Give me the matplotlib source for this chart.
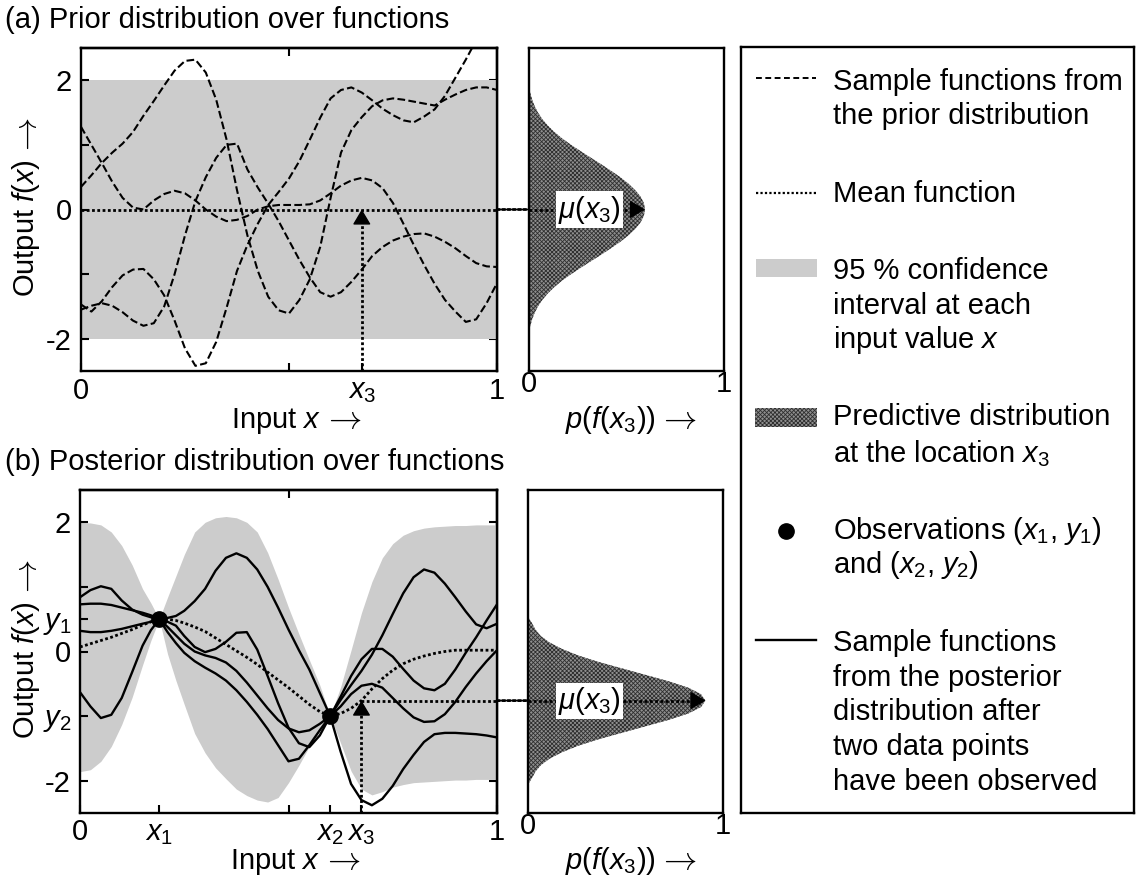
import matplotlib
matplotlib.use('Agg')
import matplotlib.pyplot as plt
from matplotlib.patches import Rectangle, ConnectionPatch
from matplotlib.lines import Line2D

plt.rcParams['font.family'] = ['Liberation Sans', 'DejaVu Sans']
plt.rcParams['mathtext.fontset'] = 'custom'
plt.rcParams['mathtext.rm'] = 'Liberation Sans'
plt.rcParams['mathtext.it'] = 'Liberation Sans:italic'
plt.rcParams['mathtext.bf'] = 'Liberation Sans:bold'
plt.rcParams['mathtext.sf'] = 'Liberation Sans'
plt.rcParams['hatch.linewidth'] = 0.6

# ------------------------------------------------------------------ data
x_prior = [0.0, 0.025, 0.05, 0.075, 0.1, 0.125, 0.15, 0.175, 0.2, 0.225, 0.25,
           0.275, 0.3, 0.325, 0.35, 0.375, 0.4, 0.425, 0.45, 0.475, 0.5,
           0.525, 0.55, 0.575, 0.6, 0.625, 0.65, 0.675, 0.7, 0.725, 0.75,
           0.775, 0.8, 0.825, 0.85, 0.875, 0.9, 0.925, 0.95, 0.975, 1.0]
prior_A = [0.35, 0.53, 0.72, 0.88, 1.02, 1.20, 1.45, 1.68, 1.92, 2.15, 2.30,
           2.32, 2.12, 1.70, 1.08, 0.30, -0.40, -0.95, -1.35, -1.56, -1.61,
           -1.40, -1.08, -0.58, 0.18, 0.88, 1.23, 1.43, 1.60, 1.69, 1.72,
           1.70, 1.67, 1.64, 1.61, 1.70, 1.78, 1.85, 1.89, 1.89, 1.85]
prior_B = [1.28, 1.00, 0.72, 0.43, 0.18, 0.03, 0.0, 0.14, 0.24, 0.29, 0.25,
           0.14, 0.0, -0.11, -0.18, -0.16, -0.10, 0.0, 0.05, 0.07, 0.07,
           0.07, 0.08, 0.14, 0.25, 0.37, 0.45, 0.49, 0.45, 0.33, 0.10,
           -0.22, -0.55, -0.86, -1.15, -1.40, -1.58, -1.74, -1.70, -1.45, -1.14]
prior_C = [-1.55, -1.49, -1.45, -1.49, -1.59, -1.72, -1.80, -1.76, -1.50, -1.00, -0.40,
           0.13, 0.50, 0.80, 1.00, 1.02, 0.62, 0.34, 0.09, -0.18, -0.48,
           -0.78, -1.05, -1.28, -1.35, -1.28, -1.12, -0.93, -0.72, -0.58, -0.48,
           -0.42, -0.38, -0.37, -0.42, -0.50, -0.60, -0.72, -0.83, -0.88, -0.89]
prior_D = [-1.47, -1.58, -1.42, -1.20, -1.02, -0.93, -0.92, -1.08, -1.33, -1.72, -2.15,
           -2.42, -2.38, -2.05, -1.52, -0.95, -0.55, -0.22, 0.07, 0.27, 0.48,
           0.75, 1.08, 1.42, 1.72, 1.85, 1.89, 1.81, 1.69, 1.56, 1.46,
           1.38, 1.35, 1.44, 1.55, 1.76, 2.04, 2.32, 2.62, 2.95, 3.30]
prior_mean_x = [0.0, 1.0]
prior_mean_y = [0.0, 0.0]
prior_band_upper = [2.0, 2.0]
prior_band_lower = [-2.0, -2.0]

x_post = [0.0, 0.025, 0.05, 0.075, 0.1, 0.125, 0.15, 0.17, 0.19,
          0.21, 0.23, 0.25, 0.275, 0.3, 0.325, 0.35, 0.375, 0.4, 0.425, 0.45,
          0.475, 0.5, 0.525, 0.55, 0.575, 0.6,
          0.625, 0.65, 0.675, 0.7, 0.725, 0.75, 0.775, 0.8, 0.825, 0.85,
          0.875, 0.9, 0.925, 0.95, 0.975, 1.0]
post_mean = [0.07, 0.12, 0.17, 0.22, 0.28, 0.34, 0.41, 0.46, 0.50,
             0.50, 0.48, 0.44, 0.38, 0.31, 0.21, 0.11, 0.01, -0.09, -0.20, -0.32,
             -0.44, -0.56, -0.69, -0.82, -0.93, -1.0,
             -0.96, -0.88, -0.76, -0.58, -0.42, -0.29, -0.19, -0.12, -0.07, -0.03,
             0.0, 0.02, 0.02, 0.02, 0.02, 0.02]
post_upper = [2.0, 1.99, 1.96, 1.85, 1.64, 1.34, 0.97, 0.75, 0.5,
              0.84, 1.17, 1.50, 1.85, 2.0, 2.07, 2.09, 2.07, 2.0, 1.85, 1.53,
              1.12, 0.68, 0.27, -0.13, -0.52, -1.0,
              -0.55, 0.02, 0.60, 1.08, 1.45, 1.67, 1.80, 1.87, 1.91, 1.93,
              1.94, 1.95, 1.95, 1.96, 1.96, 1.96]
post_lower = [-1.86, -1.83, -1.70, -1.47, -1.13, -0.71, -0.21, 0.17, 0.5,
              -0.04, -0.45, -0.82, -1.27, -1.57, -1.80, -1.97, -2.13, -2.23, -2.30, -2.33,
              -2.26, -2.03, -1.76, -1.47, -1.22, -1.0,
              -1.42, -1.85, -2.13, -2.22, -2.17, -2.10, -2.06, -2.03, -2.02, -2.01,
              -2.0, -1.99, -1.99, -1.98, -1.98, -1.98]
post_1 = [0.32, 0.30, 0.30, 0.32, 0.35, 0.39, 0.43, 0.46, 0.50,
          0.52, 0.55, 0.63, 0.78, 0.97, 1.25, 1.45, 1.52, 1.45, 1.27, 1.00,
          0.68, 0.34, 0.02, -0.28, -0.64, -1.0,
          -1.55, -2.05, -2.30, -2.38, -2.28, -2.08, -1.82, -1.60, -1.40, -1.28,
          -1.26, -1.26, -1.27, -1.28, -1.30, -1.33]
post_2 = [0.84, 0.95, 1.01, 0.97, 0.79, 0.65, 0.57, 0.53, 0.50,
          0.46, 0.40, 0.24, 0.07, -0.01, 0.04, 0.15, 0.29, 0.30, 0.03, -0.38,
          -0.80, -1.18, -1.42, -1.48, -1.30, -1.0,
          -0.70, -0.38, -0.12, 0.04, 0.04, -0.08, -0.27, -0.45, -0.57, -0.60,
          -0.50, -0.28, -0.02, 0.22, 0.48, 0.73]
post_3 = [0.73, 0.74, 0.74, 0.72, 0.68, 0.64, 0.60, 0.56, 0.50,
          0.38, 0.25, 0.12, 0.0, -0.06, -0.10, -0.17, -0.30, -0.48, -0.68, -0.88,
          -1.06, -1.19, -1.25, -1.22, -1.12, -1.0,
          -0.75, -0.52, -0.30, -0.05, 0.25, 0.58, 0.90, 1.15, 1.27, 1.22,
          1.05, 0.84, 0.62, 0.42, 0.36, 0.43]
post_4 = [-0.63, -0.85, -1.03, -0.98, -0.72, -0.32, 0.09, 0.33, 0.50,
          0.30, 0.13, -0.02, -0.15, -0.25, -0.34, -0.45, -0.60, -0.78, -0.98, -1.20,
          -1.45, -1.70, -1.66, -1.45, -1.22, -1.0,
          -0.85, -0.66, -0.53, -0.50, -0.56, -0.72, -0.88, -1.02, -1.09, -1.08,
          -0.97, -0.78, -0.55, -0.34, -0.15, 0.02]
obs_x = [0.19, 0.6]
obs_y = [0.5, -1.0]
x3 = 0.675
mu_prior_x3 = 0.0
mu_post_x3 = -0.76

dens_a_y = [-1.85, -1.8, -1.7, -1.6, -1.5, -1.4, -1.3, -1.2, -1.1, -1.0, -0.9, -0.8,
            -0.7, -0.6, -0.5, -0.4, -0.3, -0.2, -0.1, 0.0, 0.1, 0.2, 0.3, 0.4, 0.5,
            0.6, 0.7, 0.8, 0.9, 1.0, 1.1, 1.2, 1.3, 1.4, 1.5, 1.6, 1.7, 1.8, 1.85]
dens_a_p = [0.0, 0.007, 0.016, 0.029, 0.046, 0.068, 0.096, 0.13, 0.17, 0.216, 0.266,
            0.318, 0.37, 0.42, 0.468, 0.51, 0.545, 0.572, 0.589, 0.595, 0.589, 0.572,
            0.545, 0.51, 0.468, 0.42, 0.37, 0.318, 0.266, 0.216, 0.17, 0.13, 0.096,
            0.068, 0.046, 0.029, 0.016, 0.007, 0.0]
dens_b_y = [-2.06, -1.96, -1.86, -1.76, -1.66, -1.56, -1.46, -1.36, -1.26, -1.16,
            -1.06, -0.96, -0.86, -0.76, -0.66, -0.56, -0.46, -0.36, -0.26, -0.16,
            -0.06, 0.04, 0.14, 0.24, 0.34, 0.44, 0.54]
dens_b_p = [0.0, 0.02, 0.038, 0.066, 0.11, 0.174, 0.256, 0.36, 0.48, 0.60, 0.72,
            0.822, 0.887, 0.91, 0.887, 0.822, 0.72, 0.60, 0.48, 0.36, 0.256, 0.174,
            0.11, 0.066, 0.038, 0.02, 0.0]

# ------------------------------------------------------------------ style
FS = 21
W, H = 1136, 881
LW_AX = 1.7
GRAY = '#cccccc'
DOT = (0, (1.0, 0.9))
HATCH = dict(facecolor='#8f8f8f', hatch='xxxxxxxx', edgecolor='#2e2e2e', lw=0)
HEAD = dict(arrowstyle='-|>,head_length=0.47,head_width=0.28', mutation_scale=20,
            color='k', lw=1, shrinkA=0, shrinkB=0)

fig = plt.figure(figsize=(W / 100, H / 100), dpi=100)


def rect(l, t, r, b):
    return [l / W, 1 - b / H, (r - l) / W, (b - t) / H]


ax_a = fig.add_axes(rect(81, 48, 497, 371))
ax_sa = fig.add_axes(rect(529, 48, 724, 371))
ax_b = fig.add_axes(rect(80, 490, 497, 813))
ax_sb = fig.add_axes(rect(528, 490, 723, 813))
ax_l = fig.add_axes(rect(741, 47, 1134, 813))


def style_main(ax, xt, xtl, yt, ytl):
    ax.set_xlim(0, 1)
    ax.set_ylim(-2.5, 2.5)
    for s in ax.spines.values():
        s.set_linewidth(LW_AX)
        s.set_zorder(8)
    ax.set_xticks(xt, xtl)
    ax.set_yticks(yt, ytl)
    ax.tick_params(axis='both', direction='in', length=6, width=1.5, labelsize=FS)
    ax.tick_params(axis='x', pad=19.8)
    ax.tick_params(axis='y', pad=6.5)
    for lab in ax.get_xticklabels():
        lab.set_verticalalignment('baseline')
    top = ax.secondary_xaxis('top')
    top.set_xticks([0.5], [''])
    top.tick_params(direction='in', length=6, width=1.5)
    top.spines['top'].set_linewidth(LW_AX)
    right = ax.secondary_yaxis('right')
    right.set_yticks([-2, -1, 0, 1, 2], [''] * 5)
    right.tick_params(direction='in', length=6, width=1.5)
    right.spines['right'].set_linewidth(LW_AX)


def style_side(ax):
    ax.set_xlim(0, 1)
    ax.set_ylim(-2.5, 2.5)
    for s in ax.spines.values():
        s.set_linewidth(LW_AX)
        s.set_zorder(8)
    ax.set_xticks([0, 1], ['0', '1'])
    ax.set_yticks([])
    ax.tick_params(axis='x', length=0, labelsize=FS, pad=15)
    for lab in ax.get_xticklabels():
        lab.set_verticalalignment('baseline')


# ------------------------------------------------------------------ (a) prior
style_main(ax_a, [0, 0.5, x3, 1], ['0', '', '$x_3$', '1'],
           [-2, -1, 0, 1, 2], ['-2', '', '0', '', '2'])
ax_a.fill_between(prior_mean_x, prior_band_lower, prior_band_upper, color=GRAY, lw=0, zorder=1)
for ys in (prior_A, prior_B, prior_C, prior_D):
    ax_a.plot(x_prior, ys, color='k', ls='--', lw=1.5, zorder=3)
ax_a.plot(prior_mean_x, prior_mean_y, color='k', ls=DOT, lw=2.0, zorder=4)
ax_a.plot([x3, x3], [-2.5, mu_prior_x3 - 0.1], color='k', ls=DOT, lw=2.0, zorder=4)
ax_a.annotate('', xy=(x3, mu_prior_x3), xytext=(x3, mu_prior_x3 - 0.2), arrowprops=HEAD, zorder=5)

style_side(ax_sa)
ax_sa.fill_betweenx(dens_a_y, 0, dens_a_p, zorder=1, **HATCH)
peak_a = max(dens_a_p)
ax_sa.plot([0, peak_a - 0.03], [mu_prior_x3, mu_prior_x3], color='k', ls=DOT, lw=2.0, zorder=3)
ax_sa.annotate('', xy=(peak_a, mu_prior_x3), xytext=(peak_a - 0.065, mu_prior_x3),
               arrowprops=HEAD, zorder=4)
ax_sa.text(0.31, mu_prior_x3, r'$\mu(x_3)$', ha='center', va='center', fontsize=FS, zorder=6,
           bbox=dict(facecolor='white', edgecolor='none', pad=1.5))
con_a = ConnectionPatch(xyA=(1.0, mu_prior_x3), coordsA=ax_a.transData,
                        xyB=(0.0, mu_prior_x3), coordsB=ax_sa.transData,
                        color='k', lw=2.0, linestyle=DOT)
fig.add_artist(con_a)

# ------------------------------------------------------------------ (b) posterior
style_main(ax_b, [0, obs_x[0], 0.5, obs_x[1], x3, 1], ['0', '$x_1$', '', '$x_2$', '$x_3$', '1'],
           [-2, -1, 0, 0.5, 1, 2], ['-2', '$y_2$', '0', '$y_1$', '', '2'])
ax_b.fill_between(x_post, post_lower, post_upper, color=GRAY, lw=0, zorder=1)
for ys in (post_1, post_2, post_3, post_4):
    ax_b.plot(x_post, ys, color='k', ls='-', lw=1.7, zorder=3)
ax_b.plot(x_post, post_mean, color='k', ls=DOT, lw=2.0, zorder=4)
ax_b.plot(obs_x, obs_y, 'o', color='k', ms=11, zorder=6)
ax_b.plot([x3, x3], [-2.5, mu_post_x3 - 0.1], color='k', ls=DOT, lw=2.0, zorder=4)
ax_b.annotate('', xy=(x3, mu_post_x3), xytext=(x3, mu_post_x3 - 0.2), arrowprops=HEAD, zorder=5)
ax_b.plot([x3, 1.0], [mu_post_x3, mu_post_x3], color='k', ls=DOT, lw=2.0, zorder=4)

style_side(ax_sb)
ax_sb.fill_betweenx(dens_b_y, 0, dens_b_p, zorder=1, **HATCH)
peak_b = max(dens_b_p)
ax_sb.plot([0, peak_b - 0.03], [mu_post_x3, mu_post_x3], color='k', ls=DOT, lw=2.0, zorder=3)
ax_sb.annotate('', xy=(peak_b, mu_post_x3), xytext=(peak_b - 0.065, mu_post_x3),
               arrowprops=HEAD, zorder=4)
ax_sb.text(0.314, mu_post_x3, r'$\mu(x_3)$', ha='center', va='center', fontsize=FS, zorder=6,
           bbox=dict(facecolor='white', edgecolor='none', pad=1.5))
con_b = ConnectionPatch(xyA=(1.0, mu_post_x3), coordsA=ax_b.transData,
                        xyB=(0.0, mu_post_x3), coordsB=ax_sb.transData,
                        color='k', lw=2.0, linestyle=DOT)
fig.add_artist(con_b)

# ------------------------------------------------------------------ labels
def ftext(px, py, s, **kw):
    return fig.text(px / W, 1 - py / H, s, fontsize=FS, **kw)


ftext(5, 28, '(a) Prior distribution over functions', ha='left', va='baseline')
ftext(5, 470, '(b) Posterior distribution over functions', ha='left', va='baseline')

renderer = fig.canvas.get_renderer()
ARROW = r'$\rightarrow$'
AFS = 24


def hlabel(px, py, s):
    t = ftext(px, py, s, ha='left', va='baseline')
    bb = t.get_window_extent(renderer)
    fig.text((bb.x1 + 2) / W, 1 - py / H, ARROW, fontsize=AFS, math_fontfamily='cm',
             ha='left', va='baseline')


def vlabel(px, py_bottom, s):
    t = ftext(px, py_bottom, s, ha='center', va='bottom', rotation=90)
    bb = t.get_window_extent(renderer)
    fig.text((px + 2) / W, (bb.y1 + 3) / H, ARROW, fontsize=AFS, math_fontfamily='cm',
             ha='center', va='bottom', rotation=90)


hlabel(231, 428, r'Input $x$')
hlabel(230, 869, r'Input $x$')
hlabel(565, 428, r'$p(f(x_3))$')
hlabel(565, 869, r'$p(f(x_3))$')
vlabel(26, 297, r'Output $f(x)$')
vlabel(26, 739, r'Output $f(x)$')

# ------------------------------------------------------------------ legend
ax_l.set_xlim(741, 1134)
ax_l.set_ylim(813, 47)
ax_l.set_xticks([])
ax_l.set_yticks([])
for s in ax_l.spines.values():
    s.set_linewidth(LW_AX)
ax_l.add_line(Line2D([756, 816], [78, 78], color='k', ls=(0, (3.0, 1.8)), lw=1.4))
ax_l.add_line(Line2D([756, 816], [193, 193], color='k', ls=(0, (1.0, 1.0)), lw=1.6))
ax_l.add_patch(Rectangle((756, 259), 61, 18, facecolor=GRAY, lw=0))
ax_l.add_patch(Rectangle((755, 408), 62, 19, **HATCH))
ax_l.plot([786], [531], 'o', color='k', ms=11)
ax_l.add_line(Line2D([756, 816], [640, 640], color='k', ls='-', lw=1.7))
legend_lines = [
    (90, 'Sample functions from'), (124, 'the prior distribution'),
    (202, 'Mean function'),
    (279, '95 % confidence'), (314, 'interval at each'), (348, 'input value $x$'),
    (425, 'Predictive distribution'), (462, 'at the location $x_3$'),
    (539, 'Observations ($x_1$, $y_1$)'), (573, 'and ($x_2$, $y_2$)'),
    (651, 'Sample functions'), (686, 'from the posterior'), (720, 'distribution after'),
    (755, 'two data points'), (790, 'have been observed'),
]
for py, s in legend_lines:
    ax_l.text(833, py, s, fontsize=FS, ha='left', va='baseline')

fig.savefig('out.png', dpi=100)
